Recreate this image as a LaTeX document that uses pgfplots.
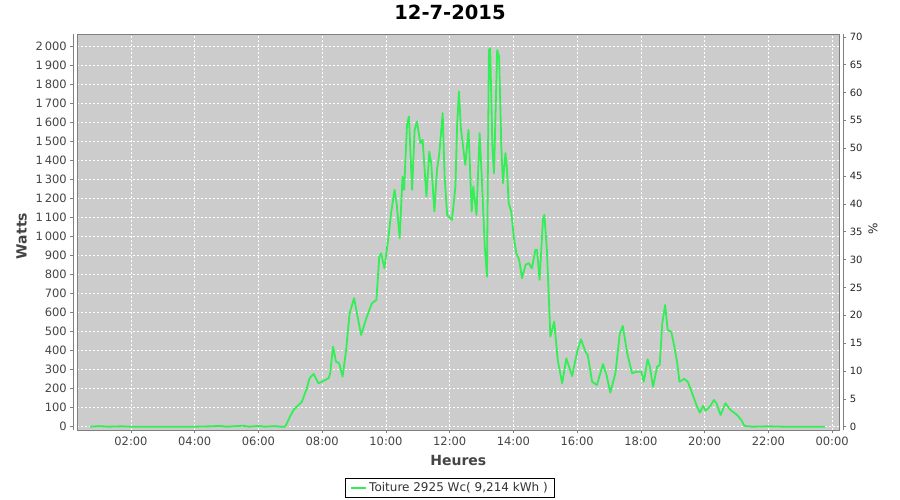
\documentclass[border=0pt]{standalone}
\usepackage{fontspec}
\setmainfont{DejaVu Sans}
\usepackage{pgfplots}
\pgfplotsset{compat=1.18}
\definecolor{plotbg}{HTML}{CCCCCC}
\definecolor{serie}{HTML}{33EE55}
\definecolor{txt}{HTML}{444444}
\definecolor{cadre}{HTML}{808080}

% puissance (W) en fonction de l'heure (h)
\pgfplotstableread{
h w
0.72 0
1.00 3
1.30 0
1.70 2
2.00 0
2.50 0
3.00 0
3.50 0
4.00 0
4.50 2
4.80 4
5.00 0
5.30 3
5.50 5
5.70 0
6.00 4
6.20 0
6.50 3
6.70 0
6.84 0
6.99 53
7.10 88
7.36 131
7.52 202
7.60 254
7.73 277
7.88 228
8.20 254
8.25 281
8.34 420
8.43 342
8.53 333
8.64 263
8.75 403
8.86 596
9.00 675
9.11 578
9.22 482
9.40 578
9.56 648
9.70 666
9.79 893
9.85 911
9.95 832
10.08 998
10.16 1121
10.27 1244
10.34 1165
10.43 990
10.52 1314
10.57 1244
10.66 1585
10.72 1629
10.82 1244
10.90 1559
10.97 1603
11.08 1489
11.15 1507
11.27 1209
11.36 1445
11.42 1384
11.52 1130
11.60 1349
11.67 1428
11.78 1647
11.84 1314
11.92 1112
12.07 1086
12.18 1261
12.23 1576
12.29 1760
12.35 1568
12.49 1375
12.59 1559
12.69 1130
12.74 1261
12.84 1112
12.94 1542
13.01 1296
13.10 946
13.17 788
13.23 1979
13.27 1988
13.34 1471
13.39 1331
13.49 1979
13.55 1944
13.62 1471
13.67 1279
13.75 1437
13.80 1349
13.85 1174
13.93 1130
14.01 998
14.09 911
14.18 876
14.27 780
14.38 850
14.48 859
14.58 832
14.69 929
14.74 929
14.82 771
14.93 1095
14.97 1112
15.05 929
15.16 473
15.28 552
15.39 350
15.53 228
15.66 359
15.84 266
16.00 394
16.12 459
16.26 394
16.33 377
16.47 236
16.62 219
16.81 329
16.92 272
17.04 179
17.20 281
17.34 491
17.43 529
17.57 386
17.72 281
17.88 289
18.01 289
18.09 236
18.21 354
18.28 315
18.38 210
18.51 315
18.59 324
18.67 543
18.76 639
18.84 508
18.95 499
19.05 420
19.14 333
19.21 236
19.36 251
19.47 236
19.61 175
19.74 114
19.85 74
19.95 109
20.03 84
20.18 109
20.29 140
20.37 123
20.50 61
20.65 123
20.81 88
21.02 61
21.15 35
21.25 4
21.50 0
22.00 2
22.50 0
23.00 0
23.50 0
23.78 0
}\toiture

\begin{document}
\begin{tikzpicture}[x=1pt,y=1pt]
\useasboundingbox (0,0) rectangle (900,500);

\begin{axis}[
  at={(77.3pt,69.5pt)}, anchor=south west,
  scale only axis, width=762pt, height=396.2pt,
  xmin=0.315, xmax=24.225, ymin=-20, ymax=2061,
  axis background/.style={fill=plotbg},
  axis line style={draw=cadre, line width=0.8pt},
  xtick={2,4,...,24},
  xticklabels={02:00,04:00,06:00,08:00,10:00,12:00,14:00,16:00,18:00,20:00,22:00,00:00},
  ytick distance=100,
  xtick pos=bottom, ytick pos=left,
  tick align=outside, major tick length=3pt,
  tick style={draw=cadre, line width=0.6pt},
  ytick style={xshift=-4pt},
  grid=major,
  major grid style={draw=white, dash pattern=on 2pt off 2pt, line width=0.5pt},
  tick label style={font=\fontsize{11.5}{13}\selectfont, text=txt},
  yticklabel style={xshift=-4pt},
  /pgf/number format/assume math mode=true,
  /pgf/number format/1000 sep={\,},
  /pgf/number format/fixed,
  legend style={at={(0.4891,-0.1446)}, anchor=center, draw=black, line width=0.8pt,
    font=\fontsize{12}{14}\selectfont, text=black!80, inner xsep=5pt, inner ysep=2.5pt},
  legend image code/.code={\draw[serie, line width=2pt] (0pt,0pt) -- (15pt,0pt);},
]
\addplot[serie, line width=1.8pt, line join=round] table[x=h, y=w] {\toiture};
\addlegendentry{Toiture 2925 Wc( 9,214 kWh )}
\end{axis}

\begin{axis}[
  at={(77.3pt,69.5pt)}, anchor=south west,
  scale only axis, width=762pt, height=396.2pt,
  xmin=0.315, xmax=24.225, ymin=-0.6838, ymax=70.462,
  axis x line=none, axis y line*=right,
  axis line style={draw=none},
  ytick distance=5,
  tick align=outside, major tick length=3pt,
  tick style={draw=cadre, line width=0.6pt},
  ytick style={xshift=4pt},
  tick label style={font=\fontsize{10}{12}\selectfont, text=black!85},
  yticklabel style={xshift=4pt},
  /pgf/number format/assume math mode=true,
]
\end{axis}

% lignes d'axes décalées
\draw[cadre, line width=0.8pt] (73.3,69.5) -- (73.3,465.7);
\draw[cadre, line width=0.8pt] (843.7,69.5) -- (843.7,465.7);

\node[font=\bfseries\fontsize{19.5}{22}\selectfont] at (450,487.5) {12-7-2015};
\node[font=\bfseries\fontsize{14}{16}\selectfont, text=txt] at (458.3,40) {Heures};
\node[font=\bfseries\fontsize{14}{16}\selectfont, text=txt, rotate=90] at (21.5,264) {Watts};
\node[font=\fontsize{12}{14}\selectfont, text=black!85, rotate=90] at (873,271) {\%};
\end{tikzpicture}
\end{document}
